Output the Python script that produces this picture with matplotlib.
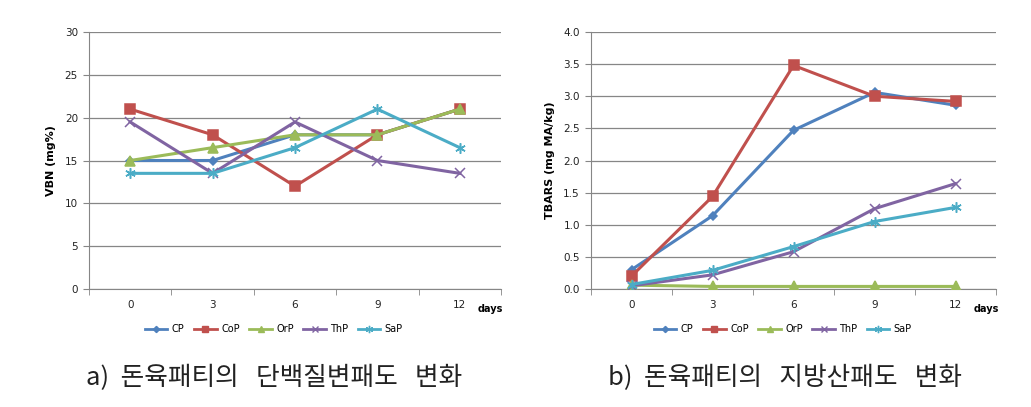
import matplotlib
matplotlib.use("Agg")
import matplotlib.pyplot as plt
from matplotlib.lines import Line2D
from matplotlib import font_manager

plt.rcParams['font.family'] = ['DejaVu Sans']

days = ["0", "3", "6", "9", "12"]
series_names = ["CP", "CoP", "OrP", "ThP", "SaP"]

vbn_CP = [15, 15, 18, 18, 21]
vbn_CoP = [21, 18, 12, 18, 21]
vbn_OrP = [15, 16.5, 18, 18, 21]
vbn_ThP = [19.5, 13.5, 19.5, 15, 13.5]
vbn_SaP = [13.5, 13.5, 16.5, 21, 16.5]

tbars_CP = [0.30, 1.14, 2.47, 3.06, 2.86]
tbars_CoP = [0.20, 1.44, 3.48, 3.00, 2.92]
tbars_OrP = [0.06, 0.04, 0.04, 0.04, 0.04]
tbars_ThP = [0.05, 0.22, 0.58, 1.25, 1.64]
tbars_SaP = [0.07, 0.29, 0.66, 1.05, 1.27]

vbn_ticks = [0, 5, 10, 15, 20, 25, 30]
tbars_ticks = [0.0, 0.5, 1.0, 1.5, 2.0, 2.5, 3.0, 3.5, 4.0]

caption_a = "a)  돈육패티의   단백질변패도   변화"
caption_b = "b)  돈육패티의   지방산패도   변화"

colors = ["#4F81BD", "#C0504D", "#9BBB59", "#8064A2", "#4BACC6"]
markers = ["D", "s", "^", "x", (6, 2, 0)]
msizes = [4.5, 6.5, 6.5, 6.5, 7.5]

names = {f.name for f in font_manager.fontManager.ttflist}
legend_family = 'Liberation Sans Narrow' if 'Liberation Sans Narrow' in names else 'DejaVu Sans'

W, H = 1031, 407
fig = plt.figure(figsize=(W / 100, H / 100), dpi=100)


def make_axes(left, right, top, bottom):
    return fig.add_axes([left / W, 1 - bottom / H, (right - left) / W, (bottom - top) / H])


def draw(ax, data, ticks, fmt, ylabel):
    x = list(range(len(days)))
    for vals, c, m, ms in zip(data, colors, markers, msizes):
        ax.plot(x, vals, color=c, lw=2.2, marker=m, markersize=ms,
                markeredgecolor=c, markerfacecolor=c, markeredgewidth=1.1, zorder=3)
    ax.set_xlim(-0.5, len(days) - 0.5)
    ax.set_ylim(ticks[0], ticks[-1])
    ax.set_yticks(ticks)
    ax.set_yticklabels([fmt.format(t) for t in ticks])
    ax.set_xticks(x)
    ax.set_xticklabels(days)
    ax.set_xticks([i - 0.5 for i in range(len(days) + 1)], minor=True)
    ax.tick_params(axis='x', which='major', length=0, pad=8, labelsize=7.5, labelcolor="#222222")
    ax.tick_params(axis='x', which='minor', length=4, color="#868686", direction='out')
    ax.tick_params(axis='y', length=4, color="#868686", labelsize=7.5, labelcolor="#222222", pad=4)
    ax.grid(axis='y', color="#868686", lw=0.9)
    ax.set_axisbelow(True)
    for s in ['top', 'right']:
        ax.spines[s].set_visible(False)
    for s in ['left', 'bottom']:
        ax.spines[s].set_color("#868686")
    ax.set_ylabel(ylabel, fontsize=8, fontweight='bold', labelpad=6)


ax1 = make_axes(89, 501, 32, 289)
draw(ax1, [vbn_CP, vbn_CoP, vbn_OrP, vbn_ThP, vbn_SaP], vbn_ticks, "{:d}", "VBN (mg%)")
ax2 = make_axes(591, 996, 32, 289)
draw(ax2, [tbars_CP, tbars_CoP, tbars_OrP, tbars_ThP, tbars_SaP], tbars_ticks, "{:.1f}", "TBARS (mg MA/kg)")

fig.text(478 / W, 1 - 309 / H, "days", fontsize=7, fontweight='bold', ha='left', va='center')
fig.text(974 / W, 1 - 309 / H, "days", fontsize=7, fontweight='bold', ha='left', va='center')

handles = [Line2D([0], [0], color=c, lw=2, marker=m, markersize=ms * 0.7,
                  markerfacecolor=c, markeredgecolor=c)
           for c, m, ms in zip(colors, markers, msizes)]
for cx in (274, 783):
    fig.legend(handles, series_names, loc='center', bbox_to_anchor=(cx / W, 1 - 329 / H),
               ncol=5, frameon=False, prop={'family': legend_family, 'size': 7},
               handlelength=2.3, handletextpad=0.45, columnspacing=1.0)

cap_font = ['Noto Sans CJK KR', 'DejaVu Sans']
fig.text(86 / W, 1 - 378 / H, caption_a, fontsize=18.5, fontweight='light',
         family=cap_font, ha='left', va='center', color="#222222")
fig.text(608 / W, 1 - 378 / H, caption_b, fontsize=18.5, fontweight='light',
         family=cap_font, ha='left', va='center', color="#222222")

fig.savefig("out.png", dpi=100)
